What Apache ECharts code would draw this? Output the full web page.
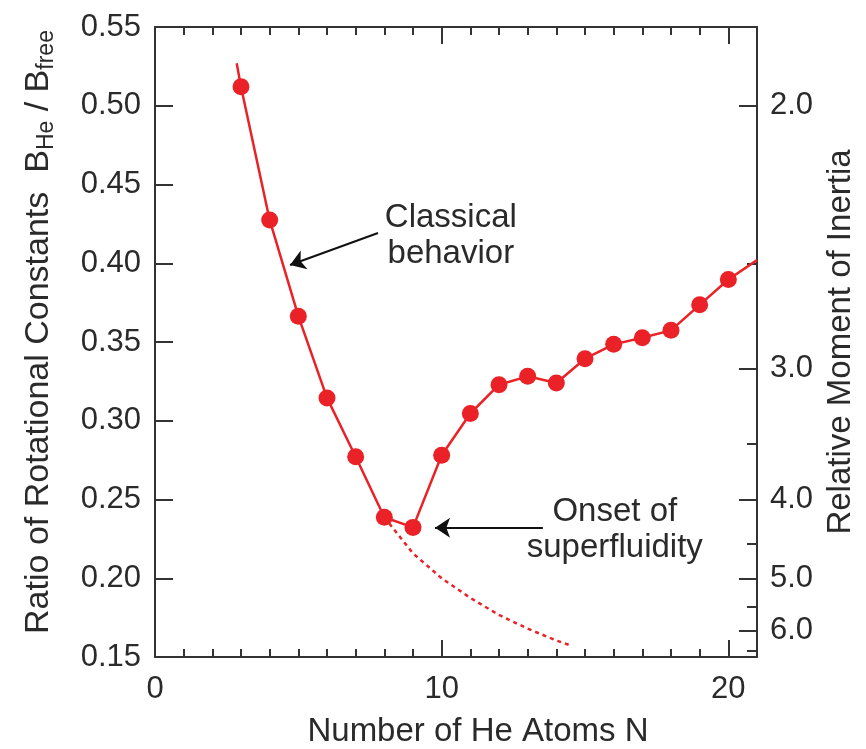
<!DOCTYPE html>
<html>
<head>
<meta charset="utf-8">
<script src="https://cdn.jsdelivr.net/npm/echarts@6/dist/echarts.min.js"></script>
<style>
  html, body { margin: 0; padding: 0; background: #fff; }
  #app { width: 866px; height: 749px; }
</style>
</head>
<body>
<div id="app"></div>
<script>
// number of He atoms and measured B_He / B_free
const atomCounts = [3, 4, 5, 6, 7, 8, 9, 10, 11, 12, 13, 14, 15, 16, 17, 18, 19, 20];
const ratioValues = [0.512, 0.4275, 0.3664, 0.3145, 0.2771, 0.2387, 0.2323, 0.2781, 0.3046,
  0.3229, 0.3282, 0.3240, 0.3394, 0.3485, 0.3527, 0.3574, 0.3736, 0.3897];
// line runs a little past the first and last points
const lineHead = [2.85, 0.527];
const lineTail = [21, 0.402];

// classical extrapolation (dotted)
const classicalN = [8, 9, 10, 11, 12, 13, 14, 14.55];
const classicalRatio = [0.2387, 0.2158, 0.2000, 0.1875, 0.1767, 0.1680, 0.1605, 0.157];

// axes
const xMax = 21;
const xTickLabels = [0, 10, 20];
const xMajorTicks = [10, 20];
const yMin = 0.15, yMax = 0.55, yStep = 0.05;
const inertiaLabels = [2, 3, 4, 5, 6];
const inertiaMinor = [2.5, 3.5, 4.5, 5.5, 6.5];

// annotations: [text, label centre, arrow start, arrow tip]
const notes = [
  { text: 'Classical\nbehavior', at: [10.32, 0.4173], from: [7.78, 0.4192], to: [4.71, 0.3989] },
  { text: 'Onset of\nsuperfluidity', at: [16.04, 0.2306], from: [13.53, 0.232], to: [9.77, 0.232] }
];

const FONT = '"Liberation Sans", Arial, Helvetica, sans-serif';
const INK = '#2a2a2a';
const RED = '#ea2227';
const axisLine = { show: true, onZero: false, lineStyle: { color: '#333', width: 2 } };
const noLine = { show: false, onZero: false };
const tickStyle = { color: '#333', width: 2 };

const chart = echarts.init(document.getElementById('app'));

const mainData = [lineHead].concat(atomCounts.map((n, i) => [n, ratioValues[i]])).concat([lineTail]);

function xAx(position, extra) {
  return Object.assign({
    type: 'value', position: position, min: 0, max: xMax,
    axisLine: noLine, splitLine: { show: false },
    axisLabel: { show: false }
  }, extra);
}
function yAx(position, extra) {
  return Object.assign({
    type: 'value', position: position, min: yMin, max: yMax,
    axisLine: noLine, splitLine: { show: false },
    axisLabel: { show: false }
  }, extra);
}

chart.setOption({
  animation: false,
  backgroundColor: '#fff',
  grid: { left: 155, right: 109, top: 27, bottom: 92, outerBoundsMode: 'none', containLabel: false },
  xAxis: [
    xAx('bottom', {
      interval: 1, axisLine: axisLine,
      axisTick: { inside: true, length: 8, lineStyle: tickStyle },
      axisLabel: { show: true, customValues: xTickLabels, margin: 17, fontSize: 31, color: INK, fontFamily: FONT },
      name: 'Number of He Atoms N', nameLocation: 'middle', nameGap: 58,
      nameTextStyle: { fontSize: 33, color: INK, fontFamily: FONT, padding: [0, 0, 0, 44] }
    }),
    xAx('bottom', { axisTick: { inside: true, length: 17, customValues: xMajorTicks, lineStyle: tickStyle } }),
    xAx('top', { interval: 1, axisLine: axisLine, axisTick: { inside: true, length: 8, lineStyle: tickStyle } }),
    xAx('top', { axisTick: { inside: true, length: 17, customValues: xMajorTicks, lineStyle: tickStyle } })
  ],
  yAxis: [
    yAx('left', {
      interval: yStep, axisLine: axisLine,
      axisTick: { inside: true, length: 18, lineStyle: tickStyle },
      axisLabel: { show: true, margin: 14, fontSize: 31, color: INK, fontFamily: FONT,
        formatter: v => v.toFixed(2) },
      name: 'Ratio of Rotational Constants  B{sub|He} / B{sub|free}',
      nameLocation: 'middle', nameGap: 97, nameRotate: 90,
      nameTextStyle: { fontSize: 34, color: INK, fontFamily: FONT, lineHeight: 38, padding: [0, 0, 0, 20],
        rich: { sub: { fontSize: 23, lineHeight: 20, verticalAlign: 'bottom', color: INK, fontFamily: FONT } } }
    }),
    yAx('right', {
      axisLine: axisLine,
      axisTick: { inside: true, length: 18, customValues: inertiaLabels.map(v => 1 / v), lineStyle: tickStyle },
      axisLabel: { show: true, customValues: inertiaLabels.map(v => 1 / v), margin: 13, fontSize: 31,
        color: INK, fontFamily: FONT, formatter: v => (1 / v).toFixed(1) },
      name: 'Relative Moment of Inertia', nameLocation: 'middle', nameGap: 66, nameRotate: 90,
      nameTextStyle: { fontSize: 33, color: INK, fontFamily: FONT }
    }),
    yAx('right', {
      axisTick: { inside: true, length: 10, customValues: inertiaMinor.map(v => 1 / v), lineStyle: tickStyle }
    })
  ],
  series: [
    {
      type: 'line',
      data: classicalN.map((n, i) => [n, classicalRatio[i]]),
      showSymbol: false,
      lineStyle: { color: RED, width: 2.5, type: [4, 4] },
      z: 2
    },
    {
      type: 'line',
      data: mainData,
      symbol: 'circle',
      symbolSize: (v, p) => (p.dataIndex === 0 || p.dataIndex === mainData.length - 1) ? 0 : 17,
      itemStyle: { color: RED },
      lineStyle: { color: RED, width: 2.5 },
      z: 3,
      markLine: {
        silent: true,
        symbol: ['none', 'arrow'],
        symbolSize: 15,
        label: { show: false },
        lineStyle: { color: '#111', width: 2, type: 'solid' },
        data: notes.map(n => [{ coord: n.from }, { coord: n.to }])
      }
    }
  ]
});

// text of the annotations, placed at data coordinates
chart.setOption({
  graphic: notes.map(n => {
    const p = chart.convertToPixel({ xAxisIndex: 0, yAxisIndex: 0 }, n.at);
    return {
      type: 'text', x: p[0], y: p[1],
      style: { text: n.text, fontSize: 33, fontFamily: FONT, fill: INK,
        align: 'center', verticalAlign: 'middle', lineHeight: 36 }
    };
  })
});
</script>
</body>
</html>
